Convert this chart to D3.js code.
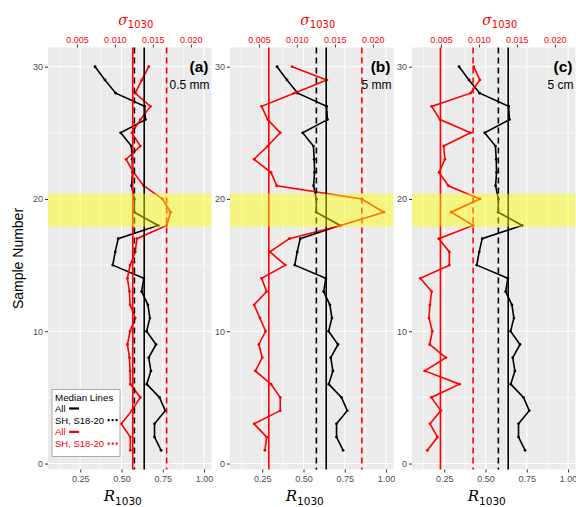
<!DOCTYPE html>
<html><head><meta charset="utf-8">
<script src="https://cdn.jsdelivr.net/npm/d3@7"></script>
<style>body{margin:0;background:#fff}svg{display:block}</style>
</head><body><script>
// ---------- data ----------
const samples = d3.range(1, 31);
const R1030 = [0.74, 0.70, 0.70, 0.765, 0.73, 0.653, 0.678, 0.665, 0.709, 0.652,
  0.672, 0.66, 0.622, 0.635, 0.447, 0.462, 0.48, 0.722, 0.577, 0.578,
  0.561, 0.567, 0.565, 0.56, 0.495, 0.645, 0.64, 0.465, 0.40, 0.34];
const sigmaA = [0.01203, 0.01203, 0.01085, 0.01223, 0.01335, 0.01203, 0.0120, 0.01192, 0.01165, 0.0120,
  0.01268, 0.0120, 0.01192, 0.01165, 0.0120, 0.01268, 0.01291, 0.01681, 0.01735, 0.01625,
  0.01379, 0.01247, 0.01148, 0.01335, 0.01223, 0.01335, 0.01468, 0.01268, 0.01355, 0.01446];
const sigmaB = [0.00579, 0.00602, 0.00437, 0.00781, 0.00781, 0.0066, 0.00454, 0.00544, 0.00499, 0.00588,
  0.00513, 0.00437, 0.00602, 0.00535, 0.00848, 0.00645, 0.009, 0.01577, 0.02144, 0.01855,
  0.00735, 0.0066, 0.00437, 0.00616, 0.00781, 0.00616, 0.00535, 0.00963, 0.01393, 0.00937];
const sigmaC = [0.00322, 0.00455, 0.00356, 0.00499, 0.00374, 0.00745, 0.00288, 0.00566, 0.00352, 0.00387,
  0.00343, 0.00356, 0.00378, 0.0023, 0.00611, 0.00611, 0.00472, 0.00924, 0.00633, 0.01013,
  0.00598, 0.00476, 0.00553, 0.00536, 0.0089, 0.00489, 0.00378, 0.0089, 0.01013, 0.00932];
const panelTags = ["(a)", "(b)", "(c)"];
const panelRes = ["0.5 mm", "5 mm", "5 cm"];
const rTicks = [0.25, 0.50, 0.75, 1.00];
const rMinor = [0.125, 0.375, 0.625, 0.875];
const sigmaTicks = [0.005, 0.010, 0.015, 0.020];
const yTicks = [0, 10, 20, 30];
const yMinor = [5, 15, 25];
const shSamples = [18, 19, 20];
const band = [17.9, 20.4];
const secFactor = 46; // R = 46 * sigma
const legendItems = [
  {label: "All", color: "#000", dash: null},
  {label: "SH, S18-20", color: "#000", dash: "2,2"},
  {label: "All", color: "#FF0000", dash: null},
  {label: "SH, S18-20", color: "#FF0000", dash: "2,2"}
];

// ---------- layout ----------
const W = 576, H = 507;
const panelLeft = [48, 230, 412], panelW = 163.5;
const pTop = 47.5, pBottom = 469.5;
const FONT = "'Liberation Sans', Arial, sans-serif";

const svg = d3.select("body").append("svg").attr("width", W).attr("height", H)
  .style("font-family", FONT);

const y = d3.scaleLinear().domain([-0.45, 31.45]).range([pBottom, pTop]);

const sigmas = [sigmaA, sigmaB, sigmaC];

panelLeft.forEach((L, pi) => {
  const x = d3.scaleLinear().domain([0.055, 1.045]).range([L, L + panelW]);
  const xs = d3.scaleLinear().domain([0.055 / secFactor, 1.045 / secFactor]).range([L, L + panelW]);
  const g = svg.append("g");
  g.append("rect").attr("x", L).attr("y", pTop).attr("width", panelW).attr("height", pBottom - pTop).attr("fill", "#EBEBEB");
  g.selectAll(null).data(rMinor).join("line")
    .attr("x1", d => x(d)).attr("x2", d => x(d)).attr("y1", pTop).attr("y2", pBottom)
    .attr("stroke", "#fff").attr("stroke-width", 0.55);
  g.selectAll(null).data(yMinor).join("line")
    .attr("y1", d => y(d)).attr("y2", d => y(d)).attr("x1", L).attr("x2", L + panelW)
    .attr("stroke", "#fff").attr("stroke-width", 0.55);
  g.selectAll(null).data(rTicks).join("line")
    .attr("x1", d => x(d)).attr("x2", d => x(d)).attr("y1", pTop).attr("y2", pBottom)
    .attr("stroke", "#fff").attr("stroke-width", 1.1);
  g.selectAll(null).data(yTicks).join("line")
    .attr("y1", d => y(d)).attr("y2", d => y(d)).attr("x1", L).attr("x2", L + panelW)
    .attr("stroke", "#fff").attr("stroke-width", 1.1);

  const bAx = g.append("g").attr("transform", `translate(0,${pBottom})`)
    .call(d3.axisBottom(x).tickValues(rTicks).tickFormat(d3.format(".2f")).tickSize(3).tickPadding(3));
  const tAx = g.append("g").attr("transform", `translate(0,${pTop})`)
    .call(d3.axisTop(xs).tickValues(sigmaTicks).tickFormat(d3.format(".3f")).tickSize(3).tickPadding(2));
  const lAx = g.append("g").attr("transform", `translate(${L},0)`)
    .call(d3.axisLeft(y).tickValues(yTicks).tickSize(3).tickPadding(2));
  [bAx, tAx, lAx].forEach(a => {
    a.select(".domain").remove();
    a.selectAll(".tick line").attr("stroke", "#333").attr("stroke-width", 1);
    a.selectAll("text").attr("font-family", FONT).attr("font-size", 9).attr("fill", "#4D4D4D");
  });
  tAx.selectAll("text").attr("fill", "#FF0000");

  const sig = sigmas[pi];
  const blackPts = samples.map((s, i) => [R1030[i], s]);
  const redPts = samples.map((s, i) => [sig[i], s]);
  const lineB = d3.line().x(d => x(d[0])).y(d => y(d[1]));
  const lineR = d3.line().x(d => xs(d[0])).y(d => y(d[1]));
  g.append("path").attr("d", lineB(blackPts)).attr("fill", "none").attr("stroke", "#000").attr("stroke-width", 1.6);
  g.selectAll(null).data(blackPts).join("circle").attr("cx", d => x(d[0])).attr("cy", d => y(d[1])).attr("r", 1.4).attr("fill", "#000");
  g.append("path").attr("d", lineR(redPts)).attr("fill", "none").attr("stroke", "#FF0000").attr("stroke-width", 1.6);
  g.selectAll(null).data(redPts).join("circle").attr("cx", d => xs(d[0])).attr("cy", d => y(d[1])).attr("r", 1.4).attr("fill", "#FF0000");

  const shIdx = shSamples.map(s => samples.indexOf(s));
  const medLines = [
    {v: x(d3.median(R1030)), c: "#000", dash: null},
    {v: x(d3.median(shIdx.map(i => R1030[i]))), c: "#000", dash: "6,4"},
    {v: xs(d3.median(sig)), c: "#FF0000", dash: null},
    {v: xs(d3.median(shIdx.map(i => sig[i]))), c: "#FF0000", dash: "6,4"}
  ];
  g.selectAll(null).data(medLines).join("line")
    .attr("x1", d => d.v).attr("x2", d => d.v).attr("y1", pTop).attr("y2", pBottom)
    .attr("stroke", d => d.c).attr("stroke-width", 1.6)
    .attr("stroke-dasharray", d => d.dash);

  g.append("rect").attr("x", L).attr("width", panelW)
    .attr("y", y(band[1])).attr("height", y(band[0]) - y(band[1]))
    .attr("fill", "#FFFF00").attr("fill-opacity", 0.45);

  g.append("text").attr("x", L + panelW - 3).attr("y", 72).attr("text-anchor", "end")
    .attr("font-size", 15.5).attr("font-weight", "bold").attr("fill", "#000").text(panelTags[pi]);
  g.append("text").attr("x", L + panelW - 2).attr("y", 89).attr("text-anchor", "end")
    .attr("font-size", 12).attr("fill", "#000").text(panelRes[pi]);

  const cx = L + panelW / 2;
  const st = g.append("text").attr("x", cx + 6).attr("y", 25).attr("text-anchor", "middle").attr("fill", "#FF0000");
  st.append("tspan").attr("font-family", "'DejaVu Serif', serif").attr("font-style", "italic").attr("font-size", 14).text("σ");
  st.append("tspan").attr("font-family", "'DejaVu Sans', sans-serif").attr("font-size", 10).attr("dy", 3).text("1030");
  const rt = g.append("text").attr("x", cx - 7).attr("y", 501).attr("text-anchor", "middle").attr("fill", "#000");
  rt.append("tspan").attr("font-family", "'DejaVu Serif', serif").attr("font-style", "italic").attr("font-size", 15).text("R");
  rt.append("tspan").attr("font-family", "'DejaVu Sans', sans-serif").attr("font-size", 10.5).attr("dy", 4).text("1030");
});

svg.append("text").attr("transform", `translate(23,${(pTop + pBottom) / 2}) rotate(-90)`)
  .attr("text-anchor", "middle").attr("font-size", 14).attr("fill", "#000").text("Sample Number");

const lg = svg.append("g");
const lx = 52, ly = 389.5;
lg.append("rect").attr("x", lx).attr("y", ly).attr("width", 68).attr("height", 67)
  .attr("fill", "#fff").attr("stroke", "#999").attr("stroke-width", 0.8);
lg.append("text").attr("x", lx + 3).attr("y", ly + 11).attr("font-size", 9.8).attr("fill", "#000").text("Median Lines");
legendItems.forEach((it, i) => {
  const by = ly + 22.5 + i * 11.7;
  const t = lg.append("text").attr("x", lx + 3).attr("y", by).attr("font-size", 9.5).attr("fill", it.color).text(it.label);
  const w = t.node().getComputedTextLength();
  const x0 = lx + 3 + w + 3.5;
  lg.append("line").attr("x1", x0).attr("x2", x0 + 10).attr("y1", by - 3.5).attr("y2", by - 3.5)
    .attr("stroke", it.color).attr("stroke-width", 2.2).attr("stroke-dasharray", it.dash);
});
</script></body></html>
